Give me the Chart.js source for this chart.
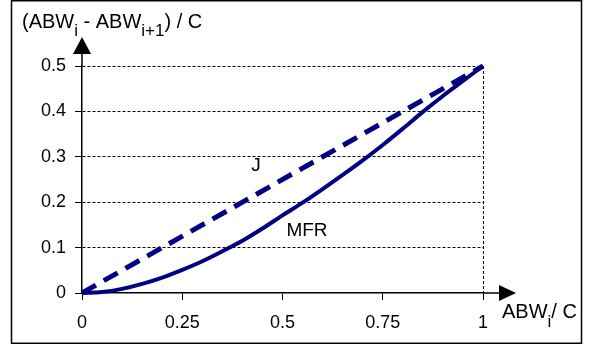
<!DOCTYPE html>
<html>
<head>
<meta charset="utf-8">
<script src="https://cdn.jsdelivr.net/npm/chart.js@4.4.1/dist/chart.umd.min.js"></script>
<style>
  body { margin: 0; background: #fff; }
  #wrap { width: 591px; height: 349px; }
</style>
</head>
<body>
<div id="wrap"><canvas id="chart" width="591" height="349"></canvas></div>
<script>
// data
const xValues = [0, 0.05, 0.1, 0.15, 0.2, 0.25, 0.3, 0.35, 0.4, 0.45, 0.5,
                 0.55, 0.6, 0.65, 0.7, 0.75, 0.8, 0.85, 0.9, 0.95, 1];
const mfrValues = [0, 0.002, 0.009, 0.02, 0.034, 0.051, 0.07, 0.092, 0.115, 0.142, 0.171,
                   0.199, 0.229, 0.26, 0.292, 0.326, 0.362, 0.399, 0.434, 0.467, 0.5];
const jX = [0, 1];
const jValues = [0, 0.5];
const xTicks = [0, 0.25, 0.5, 0.75, 1];
const yTicks = [0, 0.1, 0.2, 0.3, 0.4, 0.5];

const FONT = "'Liberation Sans', Arial, sans-serif";
const NAVY = '#000080';

const toPoints = (xs, ys) => xs.map((x, i) => ({ x: x, y: ys[i] }));

// arrows, axis titles, curve labels and the outer frame
const extras = {
    id: 'extras',
    afterDraw(chart) {
        const c = chart.ctx;
        const a = chart.chartArea;
        const sx = chart.scales.x, sy = chart.scales.y;
        c.save();
        c.strokeStyle = '#000';
        c.fillStyle = '#000';
        c.lineWidth = 1.5;
        // y arrow
        c.beginPath();
        c.moveTo(a.left, a.top);
        c.lineTo(a.left, 50);
        c.stroke();
        c.beginPath();
        c.moveTo(a.left, 37);
        c.lineTo(a.left - 9, 54);
        c.lineTo(a.left + 9, 54);
        c.closePath();
        c.fill();
        // x arrow
        c.beginPath();
        c.moveTo(a.right, a.bottom);
        c.lineTo(502, a.bottom);
        c.stroke();
        c.beginPath();
        c.moveTo(516, a.bottom);
        c.lineTo(499, a.bottom - 8);
        c.lineTo(499, a.bottom + 8);
        c.closePath();
        c.fill();

        // y title with subscripts
        c.textBaseline = 'alphabetic';
        c.textAlign = 'left';
        let x = 22;
        const part = (t, size, base) => {
            c.font = size + 'px ' + FONT;
            c.fillText(t, x, base);
            x += c.measureText(t).width;
        };
        part('(ABW', 20, 28);
        part('i', 17, 36);
        part(' - ABW', 20, 28);
        part('i+1', 17, 36);
        part(') / C', 20, 28);

        // x title
        x = 502;
        part('ABW', 20, 318);
        part('i', 17, 327);
        part('/ C', 20, 318);

        // curve labels
        c.textAlign = 'center';
        c.textBaseline = 'middle';
        c.font = '19px ' + FONT;
        c.fillText('J', sx.getPixelForValue(0.434), sy.getPixelForValue(0.28));
        c.fillText('MFR', sx.getPixelForValue(0.561), sy.getPixelForValue(0.138));

        // frame
        c.lineWidth = 1.5;
        c.strokeRect(11.5, 0.75, 570, 342.5);
        c.restore();
    }
};

new Chart(document.getElementById('chart'), {
    type: 'scatter',
    data: {
        datasets: [
            {
                label: 'J',
                data: toPoints(jX, jValues),
                showLine: true,
                borderColor: NAVY,
                borderWidth: 5,
                borderDash: [16, 9],
                pointRadius: 0,
                clip: false
            },
            {
                label: 'MFR',
                data: toPoints(xValues, mfrValues),
                showLine: true,
                borderColor: NAVY,
                borderWidth: 4,
                cubicInterpolationMode: 'monotone',
                pointRadius: 0,
                clip: false
            }
        ]
    },
    options: {
        responsive: false,
        animation: false,
        devicePixelRatio: 1,
        layout: { padding: { left: 0, top: 66, right: 108, bottom: 0 } },
        plugins: { legend: { display: false }, tooltip: { enabled: false } },
        scales: {
            x: {
                type: 'linear',
                min: 0,
                max: 1,
                afterFit(s) { s.height = 56; },
                afterBuildTicks(s) { s.ticks = xTicks.map(v => ({ value: v })); },
                ticks: {
                    font: { family: FONT, size: 18 },
                    color: '#000',
                    padding: 12,
                    maxRotation: 0,
                    callback: v => String(v)
                },
                grid: {
                    color: ctx => (ctx.tick && ctx.tick.value === 1) ? '#000' : 'rgba(0,0,0,0)',
                    lineWidth: 1,
                    tickColor: '#000',
                    tickLength: 7,
                    tickBorderDash: []
                },
                border: { display: true, color: '#000', width: 1.5, dash: [3, 2] }
            },
            y: {
                type: 'linear',
                min: 0,
                max: 0.5,
                afterFit(s) { s.width = 82; },
                afterBuildTicks(s) { s.ticks = yTicks.map(v => ({ value: v })); },
                ticks: {
                    font: { family: FONT, size: 18 },
                    color: '#000',
                    padding: 9,
                    callback: v => String(v)
                },
                grid: {
                    color: ctx => (ctx.tick && ctx.tick.value > 0) ? '#000' : 'rgba(0,0,0,0)',
                    lineWidth: 1,
                    tickColor: '#000',
                    tickLength: 7,
                    tickBorderDash: []
                },
                border: { display: true, color: '#000', width: 1.5, dash: [3, 2] }
            }
        }
    },
    plugins: [extras]
});
</script>
</body>
</html>
